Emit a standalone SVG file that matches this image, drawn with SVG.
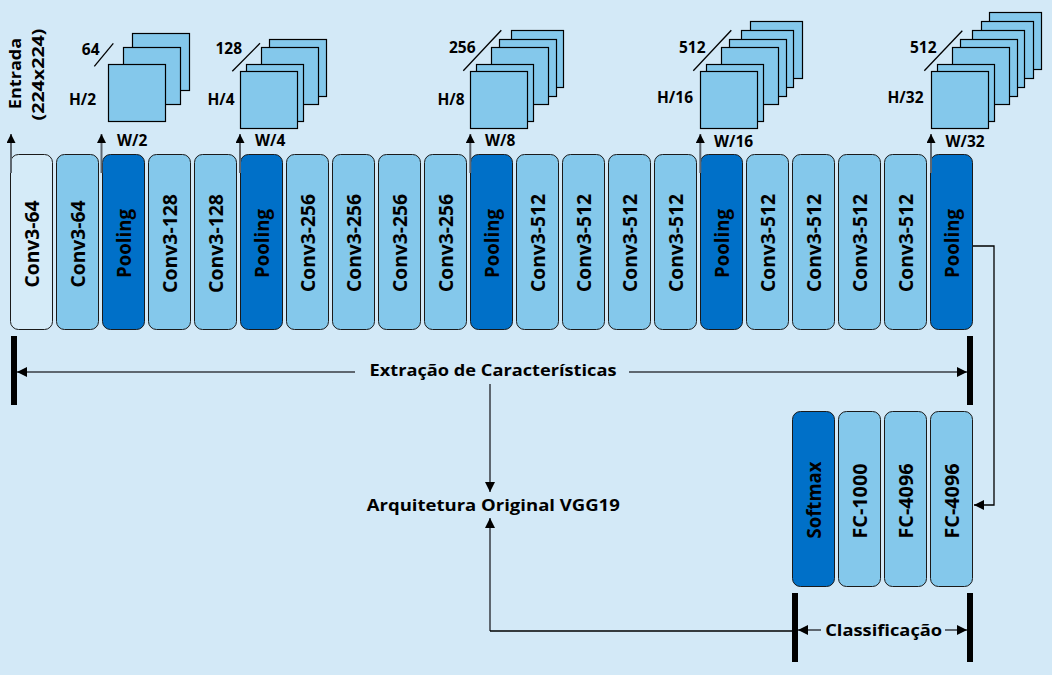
<svg xmlns="http://www.w3.org/2000/svg" width="1052" height="675" viewBox="0 0 1052 675">
<defs>
<style>
.bg{fill:#D3E9F7}
.b{stroke:#1a1a1a;stroke-width:1}
.c0{fill:#D5EBF8}
.c1{fill:#84C8EB}
.c2{fill:#0070C8}
.sq{fill:#84C8EB;stroke:#000;stroke-width:1.2}
.bt{font-family:"Open Sans","Noto Sans",sans-serif;font-weight:bold;font-size:19px;fill:#000;text-anchor:middle}
.lb{font-family:"Open Sans","Noto Sans",sans-serif;font-weight:bold;font-size:15.5px;fill:#000}
.big{font-family:"Open Sans","Noto Sans",sans-serif;font-weight:bold;font-size:16.5px;fill:#000;text-anchor:middle}
.g{stroke:#5E6770;stroke-width:2;fill:none}
.k{stroke:#000;stroke-width:1.3;fill:none}
.bar{fill:#000}
</style>
<marker id="ah" viewBox="0 0 10 10" refX="10" refY="5" markerWidth="11" markerHeight="10" markerUnits="userSpaceOnUse" orient="auto">
<path d="M0,0 L10,5 L0,10 Z" fill="#000"/>
</marker>
<marker id="ahs" viewBox="0 0 10 10" refX="10" refY="5" markerWidth="10" markerHeight="9" markerUnits="userSpaceOnUse" orient="auto">
<path d="M0,0 L10,5 L0,10 Z" fill="#000"/>
</marker>
</defs>
<rect class="bg" x="0" y="0" width="1052" height="675"/>

<!-- feature map stacks -->
<g id="fm64">
<rect class="sq" x="132.5" y="33.5" width="57" height="57"/>
<rect class="sq" x="123.5" y="47.5" width="57" height="57"/>
<rect class="sq" x="108.5" y="64.5" width="57" height="57"/>
<line class="k" x1="94.3" y1="66.3" x2="113.3" y2="43.3" stroke-width="1"/>
<text class="lb" x="99.5" y="55" text-anchor="end">64</text>
<text class="lb" x="96" y="105" text-anchor="end">H/2</text>
<text class="lb" x="117" y="146">W/2</text>
</g>
<g id="fm128">
<rect class="sq" x="269.5" y="39.5" width="57" height="57"/>
<rect class="sq" x="261.5" y="47.5" width="57" height="57"/>
<rect class="sq" x="246.5" y="64.5" width="57" height="57"/>
<rect class="sq" x="240.5" y="71.5" width="57" height="57"/>
<line class="k" x1="232.3" y1="71.3" x2="260" y2="43.3" stroke-width="1"/>
<text class="lb" x="242" y="54" text-anchor="end">128</text>
<text class="lb" x="234.5" y="104.5" text-anchor="end">H/4</text>
<text class="lb" x="255" y="146">W/4</text>
</g>
<g id="fm256">
<rect class="sq" x="511.5" y="30.5" width="52" height="57"/>
<rect class="sq" x="499.5" y="39.5" width="57" height="57"/>
<rect class="sq" x="491.5" y="47.5" width="57" height="57"/>
<rect class="sq" x="476.5" y="64.5" width="57" height="57"/>
<rect class="sq" x="470.5" y="71.5" width="57" height="57"/>
<line class="k" x1="463.3" y1="70.7" x2="501.3" y2="30.3" stroke-width="1"/>
<text class="lb" x="475.5" y="53" text-anchor="end">256</text>
<text class="lb" x="464.5" y="104.5" text-anchor="end">H/8</text>
<text class="lb" x="485" y="146">W/8</text>
</g>
<g id="fm512a">
<rect class="sq" x="750.5" y="21.5" width="52" height="57"/>
<rect class="sq" x="741.5" y="30.5" width="52" height="57"/>
<rect class="sq" x="729.5" y="39.5" width="57" height="57"/>
<rect class="sq" x="721.5" y="47.5" width="57" height="57"/>
<rect class="sq" x="706.5" y="64.5" width="57" height="57"/>
<rect class="sq" x="700.5" y="71.5" width="57" height="57"/>
<line class="k" x1="693.3" y1="70.7" x2="731.3" y2="30.3" stroke-width="1"/>
<text class="lb" x="705.5" y="53" text-anchor="end">512</text>
<text class="lb" x="693" y="102.7" text-anchor="end">H/16</text>
<text class="lb" x="714" y="146.7">W/16</text>
</g>
<g id="fm512b">
<rect class="sq" x="989.5" y="12.5" width="52" height="57"/>
<rect class="sq" x="981.5" y="21.5" width="52" height="57"/>
<rect class="sq" x="972.5" y="30.5" width="52" height="57"/>
<rect class="sq" x="960.5" y="39.5" width="57" height="57"/>
<rect class="sq" x="952.5" y="47.5" width="57" height="57"/>
<rect class="sq" x="937.5" y="64.5" width="57" height="57"/>
<rect class="sq" x="931.5" y="71.5" width="57" height="57"/>
<line class="k" x1="924.3" y1="70.7" x2="962.3" y2="30.7" stroke-width="1"/>
<text class="lb" x="936.5" y="53" text-anchor="end">512</text>
<text class="lb" x="923.5" y="102.7" text-anchor="end">H/32</text>
<text class="lb" x="945.5" y="146.7">W/32</text>
</g>

<g id="entrada">
<text class="big" transform="translate(21,73.5) rotate(-90)" font-size="17" textLength="71.5" lengthAdjust="spacingAndGlyphs">Entrada</text>
<text class="big" transform="translate(44,74.5) rotate(-90)" font-size="17" textLength="92" lengthAdjust="spacingAndGlyphs">(224x224)</text>
</g>

<!-- feature extraction blocks -->
<g id="n1"><rect class="b c0" x="10.5" y="154.5" width="42" height="175" rx="8"/><text class="bt" transform="translate(38.5,244) rotate(-90)" textLength="87" lengthAdjust="spacingAndGlyphs">Conv3-64</text></g>
<g id="n2"><rect class="b c1" x="56.5" y="154.5" width="42" height="175" rx="8"/><text class="bt" transform="translate(84.5,244) rotate(-90)" textLength="87" lengthAdjust="spacingAndGlyphs">Conv3-64</text></g>
<g id="n3"><rect class="b c2" x="102.5" y="154.5" width="42" height="175" rx="8"/><text class="bt" transform="translate(130.5,243.5) rotate(-90)" textLength="69" lengthAdjust="spacingAndGlyphs">Pooling</text></g>
<g id="n4"><rect class="b c1" x="148.5" y="154.5" width="42" height="175" rx="8"/><text class="bt" transform="translate(176.5,243.5) rotate(-90)" textLength="99" lengthAdjust="spacingAndGlyphs">Conv3-128</text></g>
<g id="n5"><rect class="b c1" x="194.5" y="154.5" width="42" height="175" rx="8"/><text class="bt" transform="translate(222.5,243.5) rotate(-90)" textLength="99" lengthAdjust="spacingAndGlyphs">Conv3-128</text></g>
<g id="n6"><rect class="b c2" x="240.5" y="154.5" width="42" height="175" rx="8"/><text class="bt" transform="translate(268.5,243.5) rotate(-90)" textLength="69" lengthAdjust="spacingAndGlyphs">Pooling</text></g>
<g id="n7"><rect class="b c1" x="286.5" y="154.5" width="42" height="175" rx="8"/><text class="bt" transform="translate(314.5,243) rotate(-90)" textLength="98" lengthAdjust="spacingAndGlyphs">Conv3-256</text></g>
<g id="n8"><rect class="b c1" x="332.5" y="154.5" width="42" height="175" rx="8"/><text class="bt" transform="translate(360.5,243) rotate(-90)" textLength="98" lengthAdjust="spacingAndGlyphs">Conv3-256</text></g>
<g id="n9"><rect class="b c1" x="378.5" y="154.5" width="42" height="175" rx="8"/><text class="bt" transform="translate(406.5,243) rotate(-90)" textLength="98" lengthAdjust="spacingAndGlyphs">Conv3-256</text></g>
<g id="n10"><rect class="b c1" x="424.5" y="154.5" width="42" height="175" rx="8"/><text class="bt" transform="translate(452.5,243) rotate(-90)" textLength="98" lengthAdjust="spacingAndGlyphs">Conv3-256</text></g>
<g id="n11"><rect class="b c2" x="470.5" y="154.5" width="42" height="175" rx="8"/><text class="bt" transform="translate(498.5,243.5) rotate(-90)" textLength="69" lengthAdjust="spacingAndGlyphs">Pooling</text></g>
<g id="n12"><rect class="b c1" x="516.5" y="154.5" width="42" height="175" rx="8"/><text class="bt" transform="translate(544.5,243) rotate(-90)" textLength="98" lengthAdjust="spacingAndGlyphs">Conv3-512</text></g>
<g id="n13"><rect class="b c1" x="562.5" y="154.5" width="42" height="175" rx="8"/><text class="bt" transform="translate(590.5,243) rotate(-90)" textLength="98" lengthAdjust="spacingAndGlyphs">Conv3-512</text></g>
<g id="n14"><rect class="b c1" x="608.5" y="154.5" width="42" height="175" rx="8"/><text class="bt" transform="translate(636.5,243) rotate(-90)" textLength="98" lengthAdjust="spacingAndGlyphs">Conv3-512</text></g>
<g id="n15"><rect class="b c1" x="654.5" y="154.5" width="42" height="175" rx="8"/><text class="bt" transform="translate(682.5,243) rotate(-90)" textLength="98" lengthAdjust="spacingAndGlyphs">Conv3-512</text></g>
<g id="n16"><rect class="b c2" x="700.5" y="154.5" width="42" height="175" rx="8"/><text class="bt" transform="translate(728.5,243.5) rotate(-90)" textLength="69" lengthAdjust="spacingAndGlyphs">Pooling</text></g>
<g id="n17"><rect class="b c1" x="746.5" y="154.5" width="42" height="175" rx="8"/><text class="bt" transform="translate(774.5,243) rotate(-90)" textLength="98" lengthAdjust="spacingAndGlyphs">Conv3-512</text></g>
<g id="n18"><rect class="b c1" x="792.5" y="154.5" width="42" height="175" rx="8"/><text class="bt" transform="translate(820.5,243) rotate(-90)" textLength="98" lengthAdjust="spacingAndGlyphs">Conv3-512</text></g>
<g id="n19"><rect class="b c1" x="838.5" y="154.5" width="42" height="175" rx="8"/><text class="bt" transform="translate(866.5,243) rotate(-90)" textLength="98" lengthAdjust="spacingAndGlyphs">Conv3-512</text></g>
<g id="n20"><rect class="b c1" x="884.5" y="154.5" width="42" height="175" rx="8"/><text class="bt" transform="translate(912.5,243) rotate(-90)" textLength="98" lengthAdjust="spacingAndGlyphs">Conv3-512</text></g>
<g id="n21"><rect class="b c2" x="930.5" y="154.5" width="42" height="175" rx="8"/><text class="bt" transform="translate(958.5,243.5) rotate(-90)" textLength="69" lengthAdjust="spacingAndGlyphs">Pooling</text></g>

<!-- classification blocks -->
<g id="c1"><rect class="b c2" x="792.5" y="411.5" width="42" height="175" rx="8"/><text class="bt" transform="translate(820.5,500) rotate(-90)" textLength="77" lengthAdjust="spacingAndGlyphs">Softmax</text></g>
<g id="c2"><rect class="b c1" x="838.5" y="411.5" width="42" height="175" rx="8"/><text class="bt" transform="translate(866.5,501) rotate(-90)" textLength="75" lengthAdjust="spacingAndGlyphs">FC-1000</text></g>
<g id="c3"><rect class="b c1" x="884.5" y="411.5" width="42" height="175" rx="8"/><text class="bt" transform="translate(912.5,501) rotate(-90)" textLength="75" lengthAdjust="spacingAndGlyphs">FC-4096</text></g>
<g id="c4"><rect class="b c1" x="930.5" y="411.5" width="42" height="175" rx="8"/><text class="bt" transform="translate(958.5,501) rotate(-90)" textLength="75" lengthAdjust="spacingAndGlyphs">FC-4096</text></g>

<!-- brackets and labels -->
<g id="extracao">
<rect class="bar" x="11" y="336" width="6" height="69"/>
<rect class="bar" x="967" y="336" width="6" height="69"/>
<text class="big" x="493" y="376" textLength="247" lengthAdjust="spacingAndGlyphs">Extração de Características</text>
</g>
<g id="classificacao">
<rect class="bar" x="792" y="593" width="6" height="69"/>
<rect class="bar" x="967" y="593" width="6" height="69"/>
<text class="big" x="883.7" y="635.7" textLength="117" lengthAdjust="spacingAndGlyphs">Classificação</text>
</g>
<g id="vgg">
<text class="big" x="493.3" y="510.7" font-size="17" textLength="253" lengthAdjust="spacingAndGlyphs">Arquitetura Original VGG19</text>
</g>

<!-- connectors -->
<g id="connectors">
<line class="g" x1="11" y1="173" x2="11" y2="134" marker-end="url(#ahs)"/>
<line class="g" x1="101.5" y1="173" x2="101.5" y2="134" marker-end="url(#ahs)"/>
<line class="g" x1="240" y1="173" x2="240" y2="134" marker-end="url(#ahs)"/>
<line class="g" x1="470.3" y1="173" x2="470.3" y2="134" marker-end="url(#ahs)"/>
<line class="g" x1="700.3" y1="173" x2="700.3" y2="134" marker-end="url(#ahs)"/>
<line class="g" x1="931" y1="173" x2="931" y2="134" marker-end="url(#ahs)"/>

<line class="g" x1="355" y1="372" x2="17" y2="372" marker-end="url(#ah)"/>
<line class="g" x1="629" y1="372" x2="967" y2="372" marker-end="url(#ah)"/>
<line class="g" x1="490" y1="384" x2="490" y2="492" marker-end="url(#ah)"/>
<line class="g" x1="490" y1="631" x2="490" y2="518" marker-end="url(#ah)"/>
<line class="k" x1="490" y1="631" x2="793" y2="631"/>
<line class="g" x1="821" y1="630" x2="798" y2="630" marker-end="url(#ah)"/>
<line class="g" x1="945" y1="630" x2="967" y2="630" marker-end="url(#ah)"/>
<path class="k" d="M973,246 H994 V505 H974" marker-end="url(#ah)"/>
</g>
</svg>
